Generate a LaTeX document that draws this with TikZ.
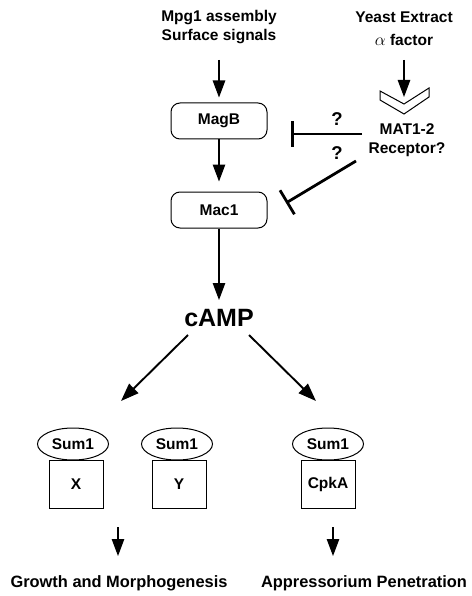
\documentclass[tikz,border=0pt]{standalone}
\usepackage{fontspec}
\setmainfont{Liberation Sans}
\usetikzlibrary{arrows.meta,shapes.geometric,calc}
\begin{document}
\begin{tikzpicture}[x=1pt,y=-1pt,
  hdr/.style={font=\bfseries\fontsize{15.5}{19}\selectfont, align=center, inner sep=0pt},
  boxlbl/.style={font=\bfseries\fontsize{15.5}{17}\selectfont},
  rbox/.style={draw, line width=1pt, rounded corners=9pt, minimum width=96pt, minimum height=36pt, boxlbl},
  ell/.style={draw, ellipse, line width=1pt, minimum width=71pt, minimum height=32pt, inner sep=0pt, boxlbl},
  sqbox/.style={draw, line width=1pt, minimum width=54pt, minimum height=48pt, inner sep=0pt, boxlbl},
  arr/.style={-{Triangle[length=17pt,width=12.5pt]}, line width=1.1pt},
  darr/.style={-{Triangle[length=18pt,width=13pt]}, line width=1.9pt},
  inhthin/.style={-{Bar[width=26pt,line width=2.6pt]}, line width=1.1pt},
  inhthick/.style={-{Bar[width=28pt,line width=2.8pt]}, line width=2.8pt},
  outlbl/.style={font=\bfseries\fontsize{16.4}{18}\selectfont, inner sep=0pt},
  qm/.style={font=\bfseries\fontsize{18.5}{20}\selectfont, inner sep=0pt}]
\useasboundingbox (0,0) rectangle (471,596);

% sources
\node[hdr] (src1) at (219,27.5) {Mpg1 assembly\\Surface signals};
\node[hdr] (ye) at (404,17) {Yeast Extract};
\node[hdr] (af) at (404,40) {{\mdseries\fontsize{17}{19}\selectfont$\alpha$} factor};

% boxes
\node[rbox] (magb) at (219,121) {MagB};
\node[rbox] (mac1) at (219,210) {Mac1};
\node[font=\bfseries\fontsize{25}{27}\selectfont, inner sep=0pt] (camp) at (219,318) {cAMP};

% receptor
\coordinate (chev) at (404,100);
\draw[line width=1pt, line join=miter]
  ($(chev)+(-24,-9)$) -- ($(chev)+(0,4)$) -- ($(chev)+(25,-12)$) -- ($(chev)+(25,-3)$)
  -- ($(chev)+(0,14)$) -- ($(chev)+(-24,0)$) -- cycle;
\node[hdr] (rec) at (407,140.5) {MAT1-2\\Receptor?};
\node[qm] (q1) at (337,119) {?};
\node[qm] (q2) at (337,153) {?};

% arrows top
\coordinate (a1s) at (219,60);
\coordinate (a2s) at (404,60);
\coordinate (a2e) at (404,97);
\draw[arr] (a1s) -- ([yshift=5pt]magb.north);
\draw[arr] (a2s) -- (a2e);
\draw[arr] (magb.south) -- ([yshift=10pt]mac1.north);
\coordinate (campTop) at (219,300);
\draw[arr] (mac1.south) -- (campTop);

% inhibitions
\coordinate (h1) at (362,134);
\coordinate (h2) at (291,134);
\draw[inhthin] (h1) -- (h2);
\coordinate (d1) at (356,161);
\coordinate (d2) at (286,203);
\draw[inhthick] (d1) -- (d2);

% cAMP branches
\coordinate (cl) at (188,335);
\coordinate (clt) at (121,401);
\coordinate (cr) at (249,335);
\coordinate (crt) at (316,401);
\draw[darr] (cl) -- (clt);
\draw[darr] (cr) -- (crt);

% Sum1 complexes
\node[ell] (s1) at (73,444) {Sum1};
\node[ell] (s2) at (177,444) {Sum1};
\node[ell] (s3) at (328,444) {Sum1};
\node[sqbox] (bx) at (76,484) {X};
\node[sqbox] (by) at (179,484) {Y};
\node[sqbox] (bc) at (328,484) {CpkA};

% outputs
\coordinate (o1s) at (118,527);
\coordinate (o1e) at (118,556);
\coordinate (o2s) at (333,527);
\coordinate (o2e) at (333,556);
\draw[arr] (o1s) -- (o1e);
\draw[arr] (o2s) -- (o2e);
\node[outlbl] (g) at (119,583) {Growth and Morphogenesis};
\node[outlbl] (p) at (364,583) {Appressorium Penetration};
\end{tikzpicture}
\end{document}
